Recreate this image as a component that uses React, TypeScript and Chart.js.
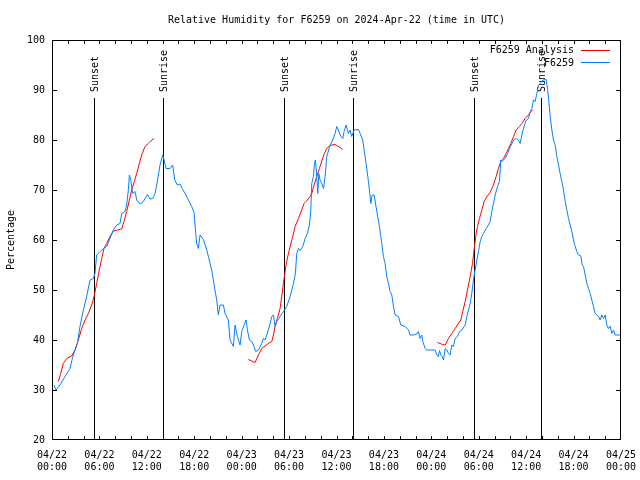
import React, { useEffect, useRef } from 'react';
import { Chart, registerables } from 'chart.js';

Chart.register(...registerables);

// ---- Data ----
const chartTitle = 'Relative Humidity for F6259 on 2024-Apr-22 (time in UTC)';
const yAxisTitle = 'Percentage';
const obsLabel = 'F6259';
const anaLabel = 'F6259 Analysis';

// Observed series (hours since 04/22 00:00 UTC, %)
const obsHours = [
  0.25, 0.51, 1.01, 1.65, 2.28, 2.57, 2.91, 3.21, 3.54, 3.97, 4.39, 4.81, 5.23, 5.44, 5.65, 6.08, 6.5, 6.92,
  7.34, 7.76, 8.19, 8.61, 8.82, 9.24, 9.45, 9.66, 9.79, 9.96, 10.21, 10.51, 10.72, 11.14, 11.56, 12.07, 12.41,
  12.74, 13.04, 13.25, 13.67, 14.01, 14.18, 14.43, 14.94, 15.27, 15.53, 15.86, 16.2, 16.54, 16.84, 17.26,
  17.68, 17.97, 18.19, 18.31, 18.52, 18.73, 19.16, 19.58, 19.79, 20.21, 20.51, 20.84, 21.05, 21.27, 21.69,
  21.9, 22.32, 22.53, 22.95, 23.16, 23.46, 23.8, 24.01, 24.3, 24.56, 24.73, 24.98, 25.27, 25.49, 25.78,
  26.12, 26.54, 26.75, 26.96, 27.17, 27.51, 27.81, 28.02, 28.23, 28.44, 28.86, 29.28, 29.7, 30.13, 30.55,
  30.8, 30.97, 31.18, 31.39, 31.73, 32.03, 32.32, 32.57, 32.74, 32.87, 33.08, 33.21, 33.33, 33.5, 33.63,
  33.76, 33.92, 34.14, 34.35, 34.56, 34.77, 35.19, 35.53, 35.82, 36.03, 36.24, 36.46, 36.79, 36.96, 37.22,
  37.51, 37.72, 37.93, 38.23, 38.78, 38.99, 39.32, 39.49, 39.75, 39.96, 40.17, 40.34, 40.51, 40.76, 40.97,
  41.18, 41.43, 41.73, 41.94, 42.15, 42.36, 42.57, 42.78, 43.0, 43.21, 43.42, 43.84, 44.14, 44.68, 45.11,
  45.32, 45.74, 46.16, 46.37, 46.58, 46.79, 46.92, 47.22, 47.43, 48.48, 48.69, 48.9, 49.03, 49.2, 49.37,
  49.54, 49.75, 49.96, 50.17, 50.38, 50.59, 50.8, 51.01, 51.31, 51.56, 51.86, 52.28, 52.49, 52.7, 52.91,
  53.12, 53.33, 53.54, 53.76, 53.97, 54.18, 54.39, 54.6, 54.94, 55.23, 55.44, 55.65, 55.86, 56.08, 56.37,
  56.62, 56.79, 56.92, 57.13, 57.34, 57.64, 57.89, 58.19, 58.48, 58.82, 59.03, 59.24, 59.45, 59.66, 60.0,
  60.3, 60.51, 60.72, 60.93, 61.14, 61.35, 61.56, 61.77, 61.98, 62.11, 62.53, 62.7, 62.87, 63.04, 63.25,
  63.46, 63.67, 63.88, 64.09, 64.3, 64.51, 64.73, 64.94, 65.15, 65.36, 65.57, 65.78, 65.99, 66.2, 66.41,
  66.62, 66.92, 67.09, 67.26, 67.47, 67.68, 67.89, 68.1, 68.31, 68.52, 68.73, 68.95, 69.16, 69.37, 69.58,
  69.79, 70.0, 70.21, 70.42, 70.63, 70.84, 71.05, 71.27, 71.9,
];
const obsValues = [
  31, 30, 31, 32.7, 34.3, 36.3, 38, 39.3, 42.7, 46, 48.7, 52, 52.3, 53.3, 57, 57.7, 58.3, 58.7,
  60.3, 62, 63, 63.3, 65.3, 65.7, 67, 70, 73, 72, 69.3, 69.7, 68, 67.2, 67.7, 69.1, 68.2,
  68.3, 69.3, 71, 75, 77, 76, 74.3, 74.3, 75, 72, 71, 71.2, 70.1, 69.3, 68,
  66.7, 65.5, 61.3, 59.3, 58.3, 61, 60.1, 58, 56.7, 54, 51, 48, 45, 47, 47,
  45.3, 44, 40, 38.7, 43, 40.7, 39, 41.7, 43, 44, 42, 40, 39.7, 39, 37.7,
  38, 39.3, 40.3, 40, 41, 42.7, 44.7, 45, 42.7, 43.7, 44.7, 45.7, 46.7, 48.7, 51.3,
  53.3, 57.3, 58.3, 57.9, 58.7, 60.3, 61.3, 63, 65.7, 71.3, 72.7, 75.3, 76, 72.7, 69.3,
  73.3, 72, 71.3, 70.3, 72.7, 76.7, 79, 80, 81.3, 82.7, 82, 81, 80.3, 81.7, 83,
  81.3, 82, 80.7, 82, 82.1, 81.3, 80, 78, 75.3, 72.7, 70, 67.3, 69, 69, 67,
  65, 62.7, 59.3, 56.7, 55.3, 52.7, 51.3, 49.7, 49, 46.7, 45, 44.7, 43, 42.7, 42,
  41, 41, 41.2, 41.7, 40.3, 41, 39.7, 38.3, 38, 38, 37, 36.7, 37.9, 37, 36.7,
  36, 38.3, 38, 37.3, 37, 39, 38.7, 40.3, 40.7, 41.7, 42, 43, 44.7, 46, 47.3,
  49.3, 52, 54, 56, 57.7, 59.7, 60.7, 61.3, 62.3, 63, 63.7, 65.7, 67.3, 69, 70.7,
  71.7, 76, 75.7, 76, 76.3, 77.3, 78.3, 79.3, 80.1, 80.3, 80, 79.3, 81, 82.3, 84,
  84.3, 85.7, 86.3, 88, 87.7, 89.3, 91, 91.3, 91.7, 92, 92.1, 90.3, 87.7, 84.7, 82,
  80, 79, 76.7, 75, 73.3, 71.7, 70, 67.7, 66, 64.3, 63, 61.7, 60, 58.7, 57.7,
  57, 56.8, 55, 54.7, 53, 51.3, 50.3, 49.3, 48, 46.7, 45.3, 45, 44.7, 44, 45,
  44.3, 45, 43, 42.3, 42.8, 41.3, 42, 41, 41,
];

// Analysis series, three runs
const ana1Hours = [0.8, 1.1, 1.43, 1.86, 2.49, 2.91, 3.33, 3.76, 4.18, 4.6, 5.02, 5.32, 5.65, 5.99, 6.29, 6.58, 6.92, 7.34, 7.76, 8.31, 8.82, 9.11, 9.45, 9.79, 10.08, 10.42, 10.72, 11.05, 11.35, 11.77, 12.19, 12.62, 12.91];
const ana1Values = [31.7, 33.3, 35.3, 36.3, 36.8, 38, 40, 42.3, 44, 45.3, 47, 48.7, 51.3, 54, 56.3, 58.3, 59.3, 60.7, 61.8, 62, 62.2, 63.7, 65.7, 68, 70, 71.7, 73.3, 75.3, 77, 78.7, 79.3, 80, 80.3];
const ana2Hours = [24.85, 25.28, 25.7, 26.12, 26.54, 26.96, 27.38, 27.81, 28.02, 28.23, 28.52, 28.86, 29.07, 29.28, 29.41, 29.62, 29.83, 30.13, 30.46, 30.76, 31.18, 31.6, 31.9, 32.32, 32.66, 32.87, 33.16, 33.5, 33.84, 34.18, 34.47, 34.77, 35.11, 35.4, 35.82, 36.12, 36.46, 36.79];
const ana2Values = [36.1, 35.8, 35.5, 37, 38.3, 38.8, 39.3, 39.7, 41, 42.7, 44.3, 46.3, 48.7, 51.3, 52.7, 55, 56.7, 58.7, 60.7, 62.7, 64.3, 66, 67.3, 68, 68.7, 69.3, 71, 72.7, 74.3, 76, 77.3, 78.3, 78.8, 79, 79.1, 78.8, 78.5, 78.1];
const ana3Hours = [48.78, 49.11, 49.45, 49.75, 50.17, 50.59, 51.01, 51.43, 51.73, 51.98, 52.28, 52.57, 52.91, 53.21, 53.46, 53.67, 53.84, 54.09, 54.39, 54.68, 55.02, 55.44, 55.86, 56.2, 56.49, 56.79, 57.13, 57.47, 57.76, 58.06, 58.4, 58.73, 59.16, 59.45, 59.87, 60.3, 60.59, 60.84];
const ana3Values = [39.5, 39.3, 39.1, 39, 40.3, 41.3, 42.3, 43.3, 44, 45.7, 47.7, 50, 52.7, 55.3, 58.7, 61.3, 62.7, 64.3, 66, 67.7, 68.7, 69.5, 71, 72.7, 74.3, 75.7, 76.3, 77.3, 78.3, 79.3, 80.7, 82, 82.7, 83.3, 84.3, 85, 85.7, 86];

const sunsetHours = [5.36, 29.4, 53.44];
const sunriseHours = [14.0, 38.03, 61.94];
const sunLineTopValue = 88.4;

const xTickDates = ['04/22', '04/22', '04/22', '04/22', '04/23', '04/23', '04/23', '04/23', '04/24', '04/24', '04/24', '04/24', '04/25'];
const xTickTimes = ['00:00', '06:00', '12:00', '18:00', '00:00', '06:00', '12:00', '18:00', '00:00', '06:00', '12:00', '18:00', '00:00'];

const FONT = '"DejaVu Sans Mono", "Liberation Mono", monospace';
const RED = '#ff0000';
const BLUE = 'rgb(0,128,255)';

function pairs(hs: number[], vs: number[]) {
  return hs.map((h, i) => ({ x: h, y: vs[i] }));
}

const decorPlugin = {
  id: 'gnuplotDecor',
  beforeDatasetsDraw(chart: any) {
    const { ctx, chartArea, scales } = chart;
    const xs = scales.x;
    const ys = scales.y;
    ctx.save();
    ctx.strokeStyle = '#000';
    ctx.lineWidth = 1;
    ctx.fillStyle = '#000';
    ctx.font = `10px ${FONT}`;
    const yTop = ys.getPixelForValue(sunLineTopValue);
    const draw = (h: number, label: string) => {
      const px = Math.round(xs.getPixelForValue(h)) + 0.5;
      ctx.beginPath();
      ctx.moveTo(px, Math.round(yTop));
      ctx.lineTo(px, chartArea.bottom);
      ctx.stroke();
      ctx.save();
      ctx.translate(px + 1, Math.round(yTop) - 6);
      ctx.rotate(-Math.PI / 2);
      ctx.textAlign = 'left';
      ctx.textBaseline = 'middle';
      ctx.fillText(label, 0, 0);
      ctx.restore();
    };
    sunsetHours.forEach((h) => draw(h, 'Sunset'));
    sunriseHours.forEach((h) => draw(h, 'Sunrise'));
    ctx.restore();
  },
  afterDatasetsDraw(chart: any) {
    const { ctx, chartArea, scales } = chart;
    const xs = scales.x;
    const ys = scales.y;
    const { left, right, top, bottom } = chartArea;
    ctx.save();
    ctx.strokeStyle = '#000';
    ctx.lineWidth = 1;
    // border
    ctx.strokeRect(Math.round(left) + 0.5, Math.round(top) + 0.5, Math.round(right - left) - 1, Math.round(bottom - top) - 1);
    // x inward ticks every 2 hours
    ctx.beginPath();
    for (let h = 2; h < 72; h += 2) {
      const px = Math.round(xs.getPixelForValue(h)) + 0.5;
      ctx.moveTo(px, bottom);
      ctx.lineTo(px, bottom - 4);
      ctx.moveTo(px, top);
      ctx.lineTo(px, top + 4);
    }
    // y inward ticks
    ys.ticks.forEach((t: any) => {
      if (t.value <= 20 || t.value >= 100) return;
      const py = Math.round(ys.getPixelForValue(t.value)) + 0.5;
      ctx.moveTo(left, py);
      ctx.lineTo(left + 5, py);
      ctx.moveTo(right, py);
      ctx.lineTo(right - 5, py);
    });
    ctx.stroke();

    // title
    ctx.fillStyle = '#000';
    ctx.font = `10px ${FONT}`;
    ctx.textAlign = 'center';
    ctx.textBaseline = 'middle';
    ctx.fillText(chartTitle, (left + right) / 2, 20);

    // y axis title
    ctx.save();
    ctx.translate(11, (top + bottom) / 2);
    ctx.rotate(-Math.PI / 2);
    ctx.fillText(yAxisTitle, 0, 0);
    ctx.restore();

    // legend
    const rows = [
      { label: anaLabel, color: RED, y: 50.5 },
      { label: obsLabel, color: BLUE, y: 63 },
    ];
    rows.forEach((r) => {
      ctx.fillStyle = '#000';
      ctx.textAlign = 'right';
      ctx.textBaseline = 'middle';
      ctx.fillText(r.label, 574, r.y);
      ctx.strokeStyle = r.color;
      ctx.beginPath();
      ctx.moveTo(581, Math.round(r.y) - 0.5);
      ctx.lineTo(610, Math.round(r.y) - 0.5);
      ctx.stroke();
    });
    ctx.restore();
  },
};

export default function App() {
  const ref = useRef<HTMLCanvasElement | null>(null);
  useEffect(() => {
    if (!ref.current) return;
    const anaData = [
      ...pairs(ana1Hours, ana1Values),
      { x: 18, y: null as any },
      ...pairs(ana2Hours, ana2Values),
      { x: 42, y: null as any },
      ...pairs(ana3Hours, ana3Values),
    ];
    const chart = new Chart(ref.current, {
      type: 'line',
      data: {
        datasets: [
          {
            label: obsLabel,
            data: pairs(obsHours, obsValues),
            borderColor: BLUE,
            borderWidth: 1,
            pointRadius: 0,
            tension: 0,
            fill: false,
          },
          {
            label: anaLabel,
            data: anaData,
            borderColor: RED,
            borderWidth: 1,
            pointRadius: 0,
            tension: 0,
            fill: false,
            spanGaps: false,
          },
        ],
      },
      options: {
        animation: false,
        responsive: false,
        devicePixelRatio: 1,
        parsing: true,
        layout: { padding: { top: 40, right: 19, left: 0, bottom: 0 } },
        plugins: {
          legend: { display: false },
          title: { display: false },
          tooltip: { enabled: false },
        },
        scales: {
          x: {
            type: 'linear',
            min: 0,
            max: 72,
            grid: { display: false, drawTicks: false },
            border: { display: false },
            afterFit: (s: any) => {
              s.height = 40;
              s.paddingLeft = 0;
              s.paddingRight = 0;
            },
            afterBuildTicks: (s: any) => {
              s.ticks = xTickDates.map((_, i) => ({ value: i * 6 }));
            },
            ticks: {
              autoSkip: false,
              maxRotation: 0,
              minRotation: 0,
              padding: 9,
              color: '#000',
              font: { family: FONT, size: 10, lineHeight: 1.2 },
              callback: (v: any) => {
                const i = Math.round(Number(v) / 6);
                return [xTickDates[i], xTickTimes[i]];
              },
            },
          },
          y: {
            min: 20,
            max: 100,
            grid: { display: false, drawTicks: false },
            border: { display: false },
            afterFit: (s: any) => {
              s.width = 52;
              s.paddingTop = 0;
              s.paddingBottom = 0;
            },
            ticks: {
              stepSize: 10,
              padding: 7,
              color: '#000',
              font: { family: FONT, size: 10 },
              callback: (v: any) => String(v),
            },
          },
        },
      },
      plugins: [decorPlugin],
    });
    return () => chart.destroy();
  }, []);
  return (
    <div style={{ position: 'fixed', left: 0, top: 0, width: 640, height: 480, background: '#fff' }}>
      <canvas ref={ref} width={640} height={480} style={{ display: 'block', width: 640, height: 480 }} />
    </div>
  );
}
